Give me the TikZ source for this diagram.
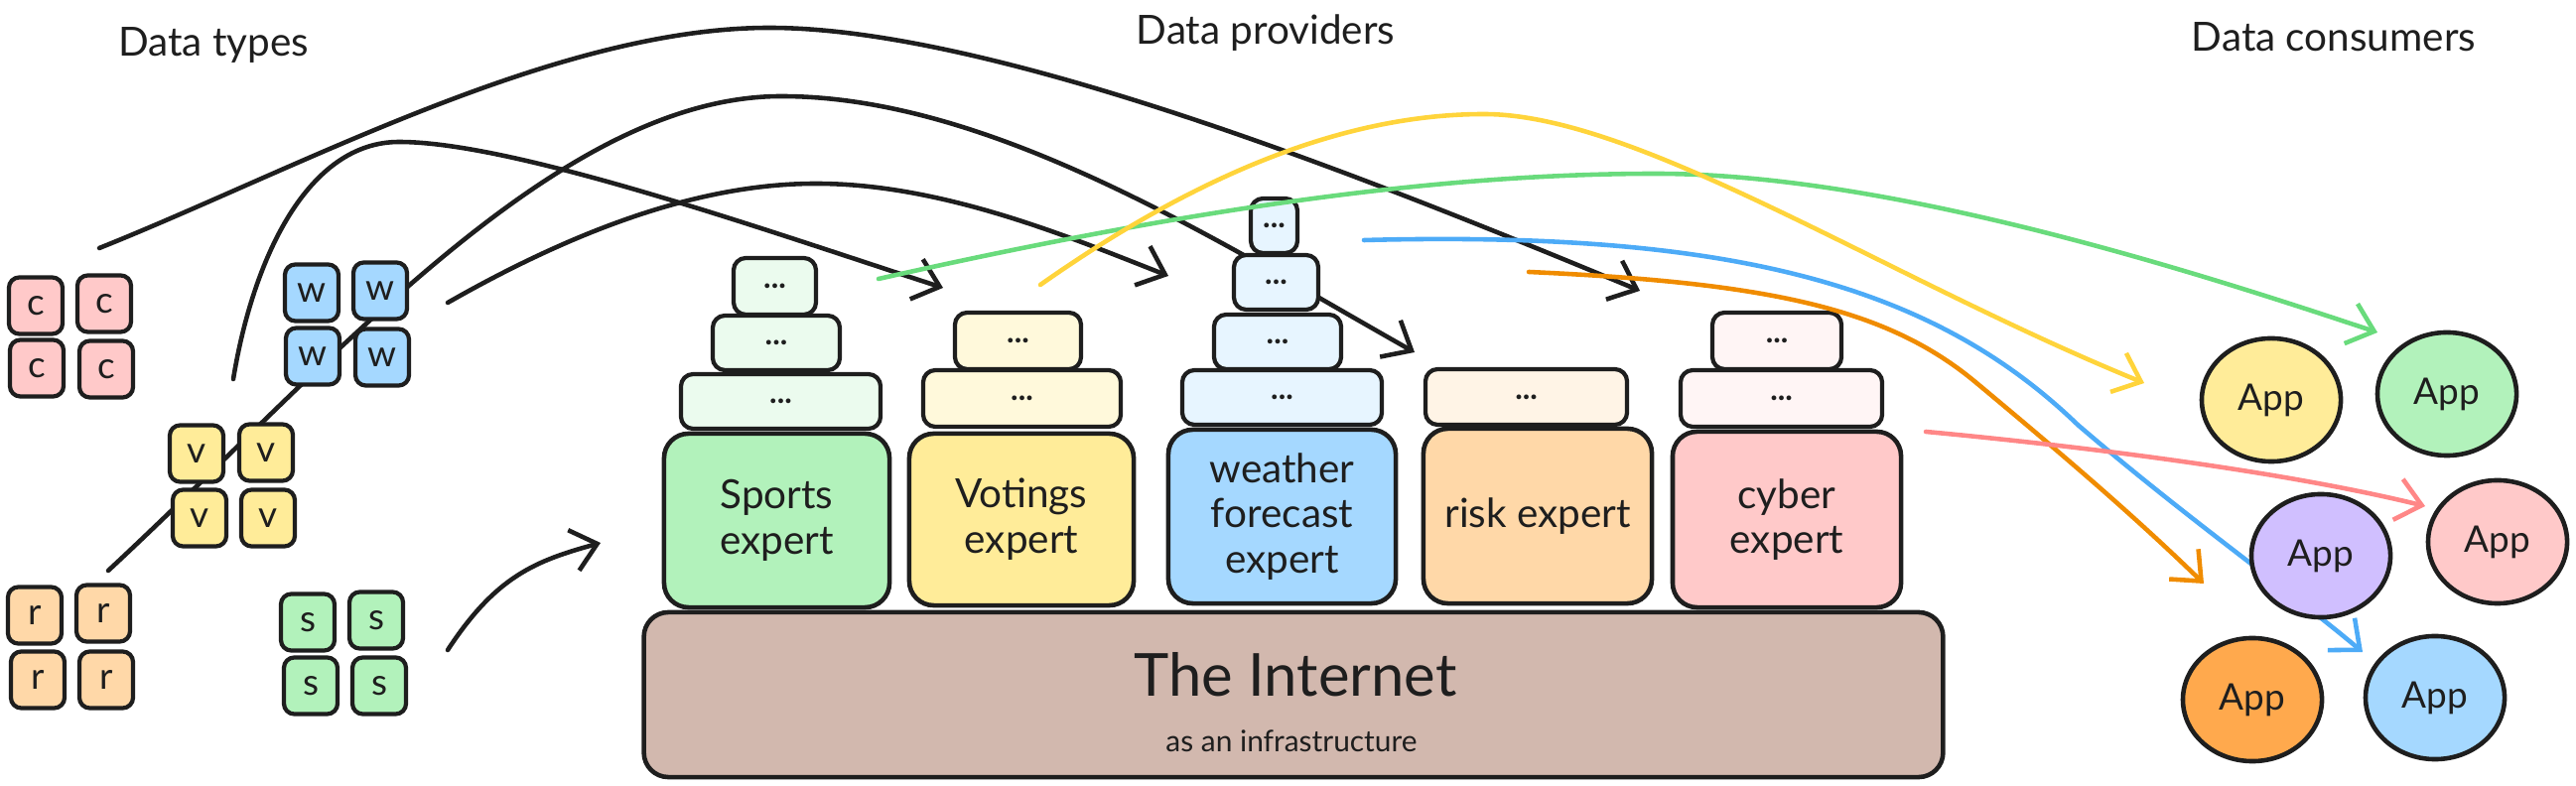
\documentclass[tikz,border=0pt]{standalone}
\usepackage{fontspec}
\setmainfont{Lato}
\usetikzlibrary{arrows.meta,shapes.geometric}
\definecolor{ink}{HTML}{1E1E1E}
\definecolor{cpink}{HTML}{FFC9C9}
\definecolor{cblue}{HTML}{A5D8FF}
\definecolor{cyel}{HTML}{FFEC99}
\definecolor{corg}{HTML}{FFD8A8}
\definecolor{cgrn}{HTML}{B2F2BB}
\definecolor{lgrn}{HTML}{EBFBEE}
\definecolor{lyel}{HTML}{FFF9DB}
\definecolor{lblue}{HTML}{E7F5FF}
\definecolor{lorg}{HTML}{FFF4E6}
\definecolor{lpink}{HTML}{FFF5F5}
\definecolor{inet}{HTML}{D2B8AE}
\definecolor{cpurp}{HTML}{D0BFFF}
\definecolor{corange}{HTML}{FFA94D}
\definecolor{fgreen}{HTML}{69DB7C}
\definecolor{fyellow}{HTML}{FFD43B}
\definecolor{fblue}{HTML}{4DABF7}
\definecolor{forange}{HTML}{F08C00}
\definecolor{fpink}{HTML}{FF8787}
\begin{document}
\begin{tikzpicture}[x=0.01cm,y=-0.01cm,
  tsq/.style={draw=ink, line width=1.2pt, rounded corners=3pt, minimum width=0.54cm, minimum height=0.57cm, inner sep=0pt, font=\fontsize{10.5}{12}\selectfont, text=ink},
  mainbox/.style={draw=ink, line width=1.3pt, rounded corners=7pt, inner sep=0pt, align=center, font=\fontsize{11.5}{13}\selectfont, text=ink},
  layer/.style={draw=ink, line width=1.2pt, rounded corners=3.5pt, inner sep=0pt, font=\bfseries\fontsize{9}{10}\selectfont, text=ink},
  app/.style={ellipse, draw=ink, line width=1.3pt, minimum width=1.4cm, minimum height=1.24cm, inner sep=0pt, font=\fontsize{10.5}{12}\selectfont, text=ink},
  title/.style={font=\fontsize{11.5}{14}\selectfont, text=ink, inner sep=0pt},
  blk/.style={draw=ink, line width=1.3pt, line cap=round, -{Straight Barb[length=7pt,width=12pt]}},
  flow/.style={line width=1.3pt, line cap=round, -{Straight Barb[length=7pt,width=12pt]}}
]
\useasboundingbox (0,0) rectangle (2595,792);

% titles
\node[title] (tTypes) at (215,45) {Data types};
\node[title] (tProv) at (1275,33) {Data providers};
\node[title] (tCons) at (2351,37) {Data consumers};

% coordinates for connector ends
\coordinate (aS) at (100,250);   \coordinate (aT) at (1652,293);
\coordinate (bS) at (235,382);   \coordinate (bT) at (950,290);
\coordinate (cS) at (109,575);   \coordinate (cT) at (1425,355);
\coordinate (dS) at (451,305);   \coordinate (dT) at (1177,278);
\coordinate (eS) at (451,655);   \coordinate (eT) at (605,547);

% black curves (behind)
\draw[blk] (aS) .. controls (300,170) and (560,28) .. (775,28) .. controls (1000,28) and (1380,180) .. (aT);
\draw[blk] (bS) .. controls (255,260) and (310,143) .. (402,143) .. controls (520,143) and (780,235) .. (bT);
\draw[blk] (cS) .. controls (330,370) and (560,97) .. (787,97) .. controls (1000,97) and (1230,245) .. (cT);
\draw[blk] (dS) .. controls (600,220) and (720,185) .. (822,185) .. controls (950,185) and (1080,240) .. (dT);
\draw[blk] (eS) .. controls (500,580) and (540,565) .. (eT);

% data type squares
\node[tsq, fill=cpink] (c1) at (36,308) {c};
\node[tsq, fill=cpink] (c2) at (105,306) {c};
\node[tsq, fill=cpink] (c3) at (37,371) {c};
\node[tsq, fill=cpink] (c4) at (107,372) {c};
\node[tsq, fill=cblue] (w1) at (314,295) {w};
\node[tsq, fill=cblue] (w2) at (383,293) {w};
\node[tsq, fill=cblue] (w3) at (315,359) {w};
\node[tsq, fill=cblue] (w4) at (385,360) {w};
\node[tsq, fill=cyel] (v1) at (198,457) {v};
\node[tsq, fill=cyel] (v2) at (268,456) {v};
\node[tsq, fill=cyel] (v3) at (201,522) {v};
\node[tsq, fill=cyel] (v4) at (270,522) {v};
\node[tsq, fill=corg] (r1) at (35,620) {r};
\node[tsq, fill=corg] (r2) at (104,618) {r};
\node[tsq, fill=corg] (r3) at (38,685) {r};
\node[tsq, fill=corg] (r4) at (107,685) {r};
\node[tsq, fill=cgrn] (s1) at (310,627) {s};
\node[tsq, fill=cgrn] (s2) at (379,625) {s};
\node[tsq, fill=cgrn] (s3) at (313,691) {s};
\node[tsq, fill=cgrn] (s4) at (382,691) {s};

% internet
\node[mainbox, fill=inet, minimum width=13.08cm, minimum height=1.66cm] (net) at (1303,700) {};
\node[font=\fontsize{17}{20}\selectfont, text=ink, inner sep=0pt] (netT) at (1305,680) {The Internet};
\node[font=\fontsize{8.5}{10}\selectfont, text=ink, inner sep=0pt] (netS) at (1301,747) {as an infrastructure};

% sports
\node[mainbox, fill=cgrn, minimum width=2.27cm, minimum height=1.75cm] (sp) at (782.5,524.5) {Sports\\expert};
\node[layer, fill=lgrn, minimum width=2.01cm, minimum height=0.55cm] (sp1) at (786.5,404.5) {...};
\node[layer, fill=lgrn, minimum width=1.28cm, minimum height=0.55cm] (sp2) at (782,345.5) {...};
\node[layer, fill=lgrn, minimum width=0.83cm, minimum height=0.57cm] (sp3) at (780.5,288.5) {...};
% votings
\node[mainbox, fill=cyel, minimum width=2.26cm, minimum height=1.73cm] (vo) at (1029,523.5) {Votings\\expert};
\node[layer, fill=lyel, minimum width=1.99cm, minimum height=0.57cm] (vo1) at (1029.5,401.5) {...};
\node[layer, fill=lyel, minimum width=1.27cm, minimum height=0.57cm] (vo2) at (1025.5,343.5) {...};
% weather
\node[mainbox, fill=cblue, minimum width=2.29cm, minimum height=1.75cm] (we) at (1291.5,520.5) {weather\\forecast\\expert};
\node[layer, fill=lblue, minimum width=2.01cm, minimum height=0.55cm] (we1) at (1291.5,400.5) {...};
\node[layer, fill=lblue, minimum width=1.28cm, minimum height=0.55cm] (we2) at (1287,344.5) {...};
\node[layer, fill=lblue, minimum width=0.85cm, minimum height=0.55cm] (we3) at (1285.5,284.5) {...};
\node[layer, fill=lblue, minimum width=0.47cm, minimum height=0.55cm] (we4) at (1283.5,227.5) {...};
% risk
\node[mainbox, fill=corg, minimum width=2.30cm, minimum height=1.76cm] (ri) at (1549,520) {risk expert};
\node[layer, fill=lorg, minimum width=2.03cm, minimum height=0.56cm] (ri1) at (1537.5,400) {...};
% cyber
\node[mainbox, fill=cpink, minimum width=2.30cm, minimum height=1.77cm] (cy) at (1800,523.5) {cyber\\expert};
\node[layer, fill=lpink, minimum width=2.03cm, minimum height=0.57cm] (cy1) at (1794.5,401.5) {...};
\node[layer, fill=lpink, minimum width=1.30cm, minimum height=0.57cm] (cy2) at (1790,343.5) {...};

% coloured flows
\coordinate (gS) at (885,281);   \coordinate (gT) at (2395,335);
\coordinate (yS) at (1048,287);  \coordinate (yT) at (2160,386);
\coordinate (uS) at (1374,242);  \coordinate (uT) at (2380,657);
\coordinate (oS) at (1540,274);  \coordinate (oT) at (2220,588);
\coordinate (pS) at (1940,435);  \coordinate (pT) at (2443,510);

\draw[flow, draw=fgreen] (gS) .. controls (1200,210) and (1450,175) .. (1668,175) .. controls (1900,175) and (2200,270) .. (gT);
\draw[flow, draw=fyellow] (yS) .. controls (1200,180) and (1350,115) .. (1495,115) .. controls (1650,115) and (1900,280) .. (yT);
\draw[flow, draw=fblue] (uS) .. controls (1750,232) and (1950,290) .. (2093,428) .. controls (2200,520) and (2300,590) .. (uT);
\draw[flow, draw=forange] (oS) .. controls (1780,285) and (1900,310) .. (1990,385) .. controls (2080,460) and (2150,520) .. (oT);
\draw[flow, draw=fpink] (pS) .. controls (2100,450) and (2300,475) .. (pT);

% consumer apps
\node[app, fill=cyel] (ay) at (2288,403) {App};
\node[app, fill=cgrn] (ag) at (2465,397) {App};
\node[app, fill=cpurp] (ap) at (2338,560) {App};
\node[app, fill=cpink] (ak) at (2516,546) {App};
\node[app, fill=corange] (ao) at (2269,705) {App};
\node[app, fill=cblue] (ab) at (2453,703) {App};
\end{tikzpicture}
\end{document}
